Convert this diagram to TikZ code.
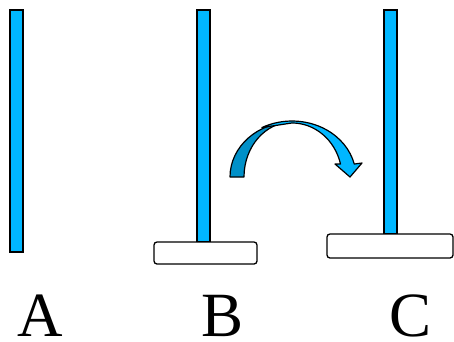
\documentclass[tikz,border=0pt]{standalone}
\usepackage{fontspec}
\setmainfont{Liberation Serif}
\usetikzlibrary{calc}
\definecolor{polecyan}{RGB}{0,183,255}
\definecolor{arrowdark}{RGB}{0,144,200}
\definecolor{arrowlight}{RGB}{0,183,255}
\tikzset{
  pole/.style={fill=polecyan, draw=black, line width=1.3pt},
  disk/.style={fill=white, draw=black, line width=1.3pt, rounded corners=3pt},
  pegname/.style={font=\fontsize{63}{63}\selectfont, anchor=base, inner sep=0pt},
  arrowpart/.style={draw=black, line width=1.2pt, line join=round}
}
\begin{document}
\begin{tikzpicture}[x=1pt, y=-1pt]
\useasboundingbox (0,0) rectangle (454,341);
% poles
\draw[pole] (10,10) rectangle (23,252);
\draw[pole] (197,10) rectangle (210,242);
\draw[pole] (384,10) rectangle (397,234);
% disks
\draw[disk] (154,242) rectangle (257,264);
\draw[disk] (327,234) rectangle (453,258);
% curved arrow: dark back part
\draw[arrowpart, fill=arrowdark]
  (230,177) arc[start angle=180, end angle=270, x radius=62, y radius=55]
  arc[start angle=270, end angle=180, x radius=48, y radius=55] -- cycle;
% curved arrow: light front part
\coordinate (p) at ($(292,177)+(-118:64 and 56)$);
\draw[arrowpart, fill=arrowlight]
  (p) arc[start angle=-118, end angle=-13.4, x radius=64, y radius=56]
  -- (362,163) -- (350,177) -- (335,164) -- (340.5,164)
  arc[start angle=-13.9, end angle=-90, x radius=50, y radius=54]
  -- cycle;
% labels
\node[pegname] (la) at (40,336) {A};
\node[pegname] (lb) at (222.5,336) {B};
\node[pegname] (lc) at (411,336) {C};
\end{tikzpicture}
\end{document}
